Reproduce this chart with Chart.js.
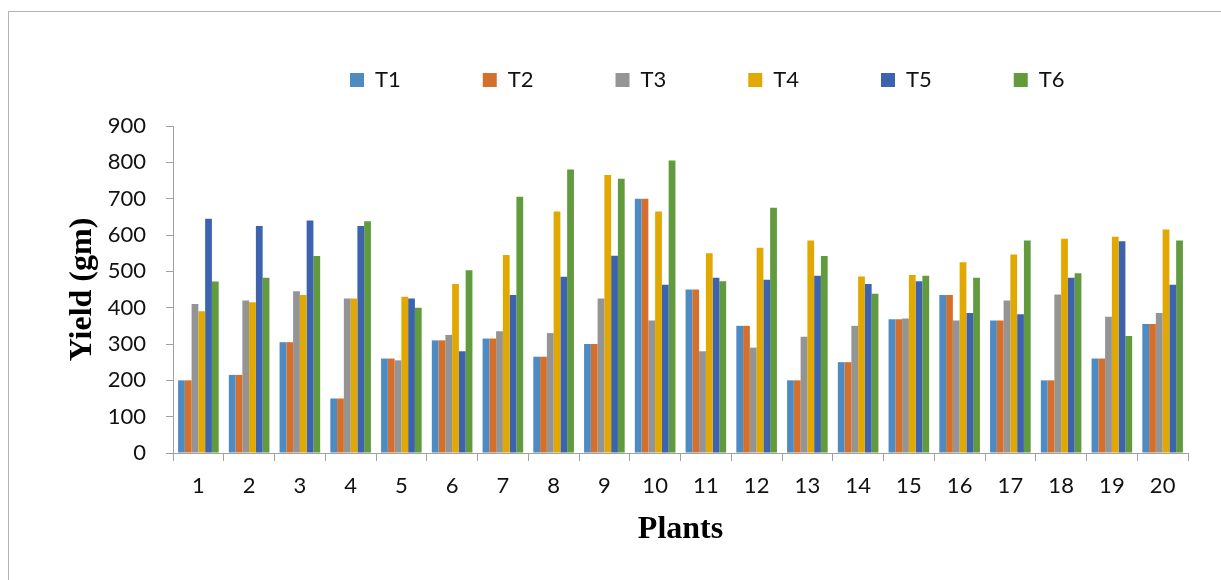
<!DOCTYPE html>
<html><head><meta charset="utf-8">
<script src="https://cdn.jsdelivr.net/npm/chart.js@4.4.1/dist/chart.umd.min.js"></script>
<style>
html,body{margin:0;padding:0;background:#fff;overflow:hidden;}
#frame{position:absolute;left:8px;top:11px;width:1240px;height:600px;border:1.5px solid #b3b3b3;box-sizing:border-box;}
#wrap{position:absolute;left:0;top:0;width:1221px;height:580px;}
</style></head><body>
<div id="frame"></div>
<div id="wrap"><canvas id="c"></canvas></div>
<script>
const plants = ['1','2','3','4','5','6','7','8','9','10','11','12','13','14','15','16','17','18','19','20'];
const seriesNames = ['T1','T2','T3','T4','T5','T6'];
const T1 = [200,215,305,150,260,310,315,265,300,700,450,350,200,250,368,435,365,200,260,355];
const T2 = [200,215,305,150,260,310,315,265,300,700,450,350,200,250,368,435,365,200,260,355];
const T3 = [410,420,445,425,255,325,335,330,425,365,280,290,320,350,370,365,420,436,375,385];
const T4 = [390,415,435,425,430,465,545,665,765,665,550,565,585,486,490,525,546,590,595,615];
const T5 = [645,625,640,625,425,280,435,485,543,463,482,477,488,465,473,385,382,482,583,463];
const T6 = [472,482,542,638,400,503,705,780,755,805,473,675,542,438,488,482,585,495,322,585];
const yTicks = [0,100,200,300,400,500,600,700,800,900];
const colors = ['#4F8BC3','#D46F2C','#949494','#E0A800','#3D63AE','#629A3E'];
const allSeries = [T1,T2,T3,T4,T5,T6];

const legendShift = {
  id: 'legendShift',
  afterLayout(chart) {
    const lg = chart.legend;
    const dx = 268, dy = -25;
    lg.left += dx; lg.right += dx; lg.top += dy; lg.bottom += dy;
  }
};

const axisColor = '#a0a0a0';
const tickFont = {family: 'Lato', size: 22};
const titleFont = {family: 'Liberation Serif', size: 32, weight: 'bold'};

new Chart(document.getElementById('c'), {
  type: 'bar',
  data: {
    labels: plants,
    datasets: seriesNames.map((n, i) => ({
      label: n,
      data: allSeries[i],
      backgroundColor: colors[i],
      borderWidth: 0,
      categoryPercentage: 0.8,
      barPercentage: 1.0
    }))
  },
  options: {
    responsive: true,
    maintainAspectRatio: false,
    animation: false,
    layout: {padding: {top: 12, left: 0, right: 33, bottom: 0}},
    plugins: {
      tooltip: {enabled: false},
      legend: {
        position: 'top',
        align: 'start',
        labels: {boxWidth: 14, boxHeight: 14, padding: 82, font: {family: 'Lato', size: 22}, color: '#111'}
      }
    },
    scales: {
      x: {
        offset: true,
        grid: {offset: true, drawOnChartArea: false, drawTicks: true, tickLength: 8, color: axisColor},
        border: {color: axisColor, width: 1},
        ticks: {font: tickFont, color: '#111', padding: 12, maxRotation: 0, autoSkip: false},
        title: {display: true, text: 'Plants', font: titleFont, color: '#000', padding: {top: 0, bottom: 31}},
        afterFit: s => { s.height = 127; }
      },
      y: {
        min: 0, max: 900,
        afterBuildTicks: s => { s.ticks = yTicks.map(v => ({value: v})); },
        grid: {drawOnChartArea: false, drawTicks: true, tickLength: 7, color: axisColor},
        border: {color: axisColor, width: 1},
        ticks: {font: tickFont, color: '#111', padding: 20},
        title: {display: true, text: 'Yield (gm)', font: titleFont, color: '#000', padding: {top: 64, bottom: 0}},
        afterFit: s => { s.width = 173; }
      }
    }
  },
  plugins: [legendShift]
});
</script>
</body></html>
